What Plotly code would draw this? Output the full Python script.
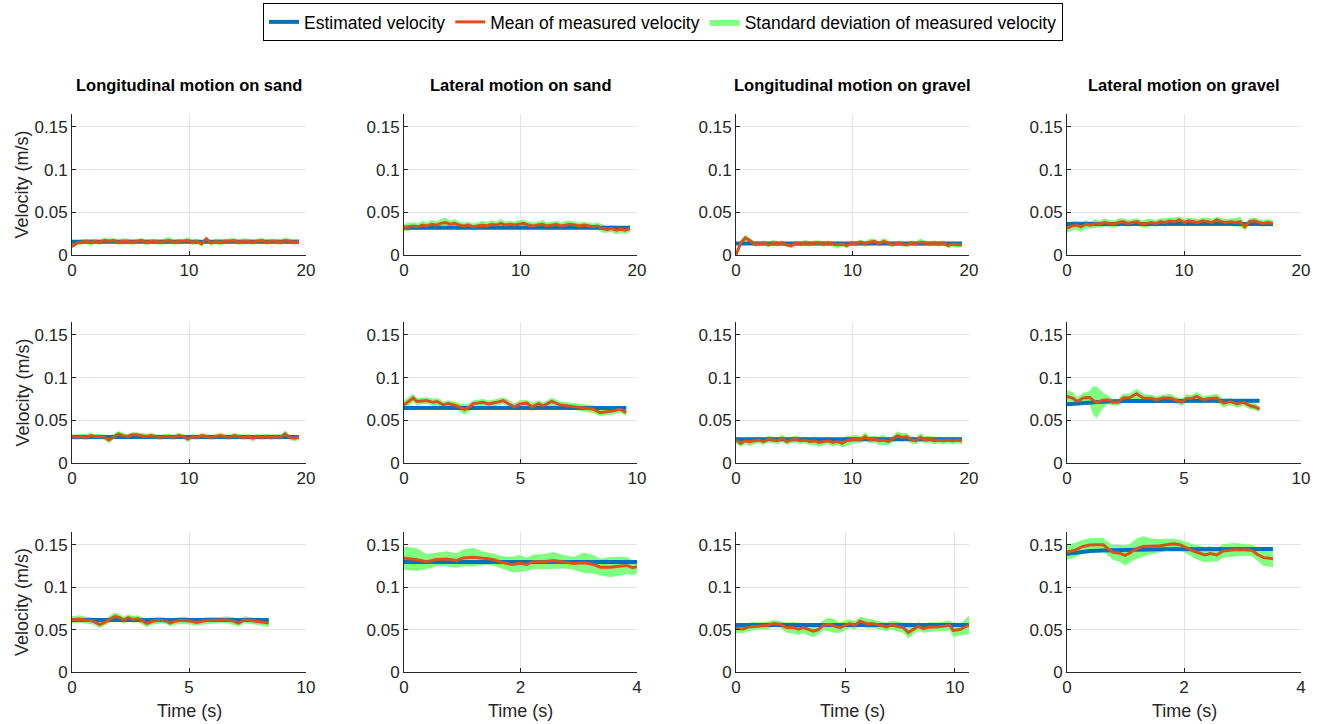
import numpy as np
import plotly.graph_objects as go

# ---------------- data ----------------
titles = ["Longitudinal motion on sand", "Lateral motion on sand",
          "Longitudinal motion on gravel", "Lateral motion on gravel"]
series_names = ["Estimated velocity", "Mean of measured velocity",
                "Standard deviation of measured velocity"]
y_tickvals = [0, 0.05, 0.1, 0.15]
y_ticktext = ["0", "0.05", "0.1", "0.15"]

# Row 1, col 1 : longitudinal / sand (slow)
A_t = np.linspace(0, 19.4, 50)
A_mean = [0.010, 0.014, 0.015, 0.016, 0.015, 0.016, 0.015, 0.017, 0.016, 0.017,
          0.015, 0.016, 0.016, 0.015, 0.016, 0.017, 0.015, 0.016, 0.016, 0.015,
          0.016, 0.017, 0.015, 0.016, 0.016, 0.017, 0.015, 0.016, 0.013, 0.019,
          0.014, 0.016, 0.015, 0.016, 0.016, 0.017, 0.015, 0.016, 0.016, 0.015,
          0.016, 0.017, 0.015, 0.016, 0.016, 0.015, 0.017, 0.016, 0.015, 0.016]
A_std = [0.002, 0.003, 0.003, 0.003, 0.0035, 0.003, 0.003, 0.0035, 0.003, 0.003,
         0.003, 0.0035, 0.003, 0.003, 0.003, 0.003, 0.0035, 0.003, 0.003, 0.003,
         0.0035, 0.004, 0.003, 0.003, 0.003, 0.0035, 0.003, 0.003, 0.003, 0.003,
         0.003, 0.003, 0.0035, 0.003, 0.003, 0.003, 0.003, 0.0035, 0.003, 0.003,
         0.003, 0.0035, 0.003, 0.003, 0.003, 0.003, 0.0035, 0.003, 0.003, 0.003]
A_est_t = [0, 19.4]
A_est = [0.0155, 0.0155]

# Row 1, col 2 : lateral / sand (slow)
B_t = np.linspace(0, 19.4, 50)
B_mean = [0.032, 0.033, 0.034, 0.033, 0.035, 0.034, 0.036, 0.035, 0.037, 0.038,
          0.036, 0.037, 0.035, 0.034, 0.035, 0.033, 0.034, 0.035, 0.034, 0.036,
          0.035, 0.037, 0.035, 0.036, 0.035, 0.036, 0.037, 0.035, 0.034, 0.035,
          0.036, 0.034, 0.035, 0.036, 0.034, 0.035, 0.036, 0.035, 0.034, 0.035,
          0.034, 0.033, 0.034, 0.031, 0.030, 0.031, 0.029, 0.030, 0.029, 0.031]
B_std = [0.004, 0.005, 0.004, 0.004, 0.005, 0.004, 0.005, 0.004, 0.005, 0.006,
         0.004, 0.005, 0.004, 0.004, 0.004, 0.004, 0.004, 0.005, 0.004, 0.005,
         0.004, 0.005, 0.004, 0.004, 0.004, 0.005, 0.004, 0.004, 0.004, 0.004,
         0.005, 0.004, 0.004, 0.004, 0.004, 0.005, 0.004, 0.004, 0.004, 0.004,
         0.004, 0.004, 0.004, 0.005, 0.004, 0.004, 0.005, 0.004, 0.004, 0.004]
B_est_t = [0, 19.4]
B_est = [0.032, 0.032]

# Row 1, col 3 : longitudinal / gravel (slow)
C_t = np.linspace(0, 19.4, 50)
C_mean = [0.000, 0.014, 0.020, 0.017, 0.013, 0.013, 0.014, 0.012, 0.014, 0.013,
          0.014, 0.012, 0.011, 0.014, 0.013, 0.014, 0.013, 0.014, 0.014, 0.013,
          0.014, 0.013, 0.012, 0.013, 0.011, 0.014, 0.013, 0.015, 0.013, 0.015,
          0.016, 0.013, 0.016, 0.014, 0.012, 0.014, 0.013, 0.012, 0.014, 0.013,
          0.015, 0.014, 0.013, 0.014, 0.013, 0.014, 0.011, 0.013, 0.012, 0.012]
C_std = [0.0005, 0.003, 0.004, 0.003, 0.003, 0.003, 0.003, 0.003, 0.0035, 0.003,
         0.003, 0.003, 0.003, 0.003, 0.003, 0.0035, 0.003, 0.003, 0.003, 0.003,
         0.003, 0.003, 0.0035, 0.003, 0.003, 0.003, 0.003, 0.003, 0.003, 0.004,
         0.003, 0.003, 0.004, 0.003, 0.003, 0.003, 0.003, 0.003, 0.003, 0.003,
         0.004, 0.003, 0.003, 0.003, 0.003, 0.003, 0.003, 0.0035, 0.003, 0.003]
C_est_t = [0, 19.4]
C_est = [0.0135, 0.0135]

# Row 1, col 4 : lateral / gravel (slow)
D_t = np.linspace(0, 17.6, 45)
D_mean = [0.031, 0.034, 0.035, 0.033, 0.036, 0.035, 0.037, 0.036, 0.038, 0.037,
          0.036, 0.038, 0.039, 0.037, 0.038, 0.039, 0.036, 0.037, 0.038, 0.037,
          0.039, 0.038, 0.040, 0.039, 0.041, 0.038, 0.040, 0.039, 0.038, 0.040,
          0.039, 0.038, 0.041, 0.039, 0.038, 0.039, 0.038, 0.039, 0.033, 0.039,
          0.040, 0.038, 0.037, 0.038, 0.037]
D_std = [0.005, 0.006, 0.005, 0.006, 0.005, 0.004, 0.005, 0.004, 0.005, 0.004,
         0.004, 0.005, 0.004, 0.004, 0.004, 0.004, 0.004, 0.005, 0.004, 0.004,
         0.004, 0.005, 0.004, 0.005, 0.004, 0.004, 0.004, 0.004, 0.004, 0.004,
         0.005, 0.004, 0.004, 0.004, 0.004, 0.004, 0.005, 0.006, 0.004, 0.004,
         0.004, 0.004, 0.004, 0.004, 0.004]
D_est_t = [0, 17.6]
D_est = [0.0362, 0.0362]

# Row 2, col 1 : longitudinal / sand (medium)
E_t = np.linspace(0, 19.4, 50)
E_mean = [0.031, 0.030, 0.031, 0.030, 0.032, 0.031, 0.031, 0.030, 0.027, 0.031,
          0.034, 0.032, 0.031, 0.033, 0.033, 0.032, 0.031, 0.032, 0.031, 0.030,
          0.031, 0.031, 0.030, 0.032, 0.031, 0.028, 0.031, 0.030, 0.032, 0.031,
          0.030, 0.031, 0.032, 0.031, 0.030, 0.032, 0.031, 0.030, 0.031, 0.029,
          0.031, 0.030, 0.031, 0.030, 0.031, 0.030, 0.034, 0.030, 0.029, 0.030]
E_std = [0.003, 0.003, 0.003, 0.0035, 0.003, 0.003, 0.003, 0.003, 0.004, 0.003,
         0.0035, 0.003, 0.003, 0.003, 0.003, 0.003, 0.003, 0.003, 0.003, 0.003,
         0.003, 0.003, 0.003, 0.003, 0.003, 0.0035, 0.003, 0.003, 0.003, 0.003,
         0.003, 0.003, 0.003, 0.003, 0.003, 0.003, 0.003, 0.003, 0.003, 0.0035,
         0.003, 0.003, 0.003, 0.003, 0.003, 0.003, 0.004, 0.003, 0.0035, 0.003]
E_est_t = [0, 19.4]
E_est = [0.0305, 0.0305]

# Row 2, col 2 : lateral / sand (medium)
F_t = [0, 0.39, 0.56, 0.96, 1.25, 1.42, 1.68, 1.9, 2.25, 2.6, 2.82, 2.97, 3.4,
       3.62, 3.98, 4.26, 4.45, 4.73, 4.98, 5.27, 5.5, 5.77, 5.98, 6.34, 6.7,
       6.99, 7.35, 7.7, 8.13, 8.42, 8.71, 9.0, 9.28, 9.54]
F_mean = [0.068, 0.076, 0.072, 0.073, 0.071, 0.072, 0.068, 0.0695, 0.067, 0.0625,
          0.0656, 0.0695, 0.071, 0.069, 0.071, 0.073, 0.070, 0.0656, 0.069, 0.070,
          0.0656, 0.0695, 0.0668, 0.072, 0.068, 0.067, 0.066, 0.0648, 0.063, 0.059,
          0.060, 0.061, 0.063, 0.059]
F_std = [0.005, 0.005, 0.004, 0.004, 0.004, 0.0045, 0.004, 0.004, 0.004, 0.006,
         0.005, 0.004, 0.004, 0.004, 0.004, 0.004, 0.0045, 0.004, 0.0045, 0.004,
         0.005, 0.004, 0.004, 0.0045, 0.004, 0.004, 0.004, 0.004, 0.0045, 0.004,
         0.004, 0.004, 0.004, 0.004]
F_est_t = [0, 9.54]
F_est = [0.0645, 0.0645]

# Row 2, col 3 : longitudinal / gravel (medium)
G_t = np.linspace(0, 19.4, 50)
G_mean = [0.027, 0.023, 0.026, 0.025, 0.026, 0.027, 0.025, 0.028, 0.027, 0.026,
          0.029, 0.025, 0.027, 0.028, 0.026, 0.027, 0.025, 0.026, 0.024, 0.025,
          0.026, 0.024, 0.025, 0.023, 0.026, 0.027, 0.028, 0.027, 0.031, 0.027,
          0.028, 0.026, 0.027, 0.025, 0.028, 0.032, 0.030, 0.031, 0.027, 0.026,
          0.030, 0.027, 0.028, 0.026, 0.027, 0.026, 0.027, 0.026, 0.027, 0.026]
G_std = [0.004, 0.004, 0.004, 0.005, 0.004, 0.004, 0.004, 0.004, 0.004, 0.004,
         0.004, 0.004, 0.004, 0.004, 0.004, 0.004, 0.004, 0.005, 0.005, 0.004,
         0.004, 0.005, 0.004, 0.005, 0.006, 0.005, 0.005, 0.004, 0.005, 0.004,
         0.004, 0.005, 0.006, 0.004, 0.004, 0.005, 0.005, 0.004, 0.004, 0.004,
         0.005, 0.004, 0.004, 0.004, 0.004, 0.004, 0.004, 0.004, 0.004, 0.004]
G_est_t = [0, 19.4]
G_est = [0.0278, 0.0278]

# Row 2, col 4 : lateral / gravel (medium)
H_t = [0, 0.26, 0.43, 0.69, 0.97, 1.1, 1.26, 1.54, 1.76, 1.97, 2.19, 2.4, 2.69,
       2.97, 3.26, 3.6, 3.83, 4.1, 4.4, 4.61, 4.9, 5.1, 5.31, 5.54, 5.83, 6.1,
       6.4, 6.69, 6.97, 7.26, 7.54, 7.83, 8.04, 8.23]
H_mean = [0.078, 0.0758, 0.072, 0.076, 0.0766, 0.0735, 0.0707, 0.0734, 0.074, 0.071,
          0.071, 0.076, 0.0766, 0.081, 0.076, 0.0758, 0.074, 0.076, 0.076, 0.074,
          0.071, 0.0754, 0.0754, 0.078, 0.074, 0.0754, 0.076, 0.070, 0.072, 0.069,
          0.071, 0.067, 0.0656, 0.063]
H_std = [0.007, 0.007, 0.005, 0.006, 0.008, 0.016, 0.019, 0.009, 0.005, 0.004,
         0.004, 0.005, 0.005, 0.006, 0.005, 0.004, 0.004, 0.004, 0.005, 0.004,
         0.004, 0.005, 0.004, 0.005, 0.004, 0.004, 0.005, 0.005, 0.004, 0.004,
         0.004, 0.004, 0.004, 0.003]
H_est_t = [0, 0.5, 1.0, 1.5, 2.0, 2.5, 8.23]
H_est = [0.0688, 0.0700, 0.0710, 0.0717, 0.0722, 0.0726, 0.0727]

# Row 3, col 1 : longitudinal / sand (fast)
I_t = [0, 0.33, 0.61, 0.9, 1.19, 1.47, 1.83, 2.04, 2.21, 2.4, 2.61, 2.81, 2.96,
       3.19, 3.47, 3.76, 4.04, 4.19, 4.4, 4.69, 5.04, 5.33, 5.61, 5.9, 6.26,
       6.61, 6.9, 7.11, 7.4, 7.76, 8.04, 8.41]
I_mean = [0.0616, 0.0624, 0.061, 0.060, 0.056, 0.0597, 0.0655, 0.064, 0.061, 0.064,
          0.062, 0.063, 0.061, 0.057, 0.060, 0.061, 0.060, 0.0577, 0.0597, 0.061,
          0.060, 0.0585, 0.060, 0.061, 0.061, 0.0616, 0.060, 0.0577, 0.0616, 0.060,
          0.059, 0.0577]
I_std = [0.004, 0.0045, 0.004, 0.004, 0.004, 0.004, 0.0045, 0.004, 0.004, 0.004,
         0.004, 0.004, 0.004, 0.004, 0.004, 0.004, 0.0035, 0.004, 0.004, 0.0045,
         0.004, 0.004, 0.004, 0.004, 0.0035, 0.004, 0.0045, 0.004, 0.004, 0.004,
         0.004, 0.005]
I_est_t = [0, 8.41]
I_est = [0.0612, 0.0612]

# Row 3, col 2 : lateral / sand (fast)
J_t = [0, 0.21, 0.39, 0.56, 0.73, 0.9, 1.02, 1.19, 1.36, 1.53, 1.71, 1.85, 1.99,
       2.1, 2.22, 2.4, 2.57, 2.74, 2.91, 3.09, 3.26, 3.37, 3.55, 3.72, 3.83,
       3.92, 4.0]
J_mean = [0.134, 0.1326, 0.130, 0.1326, 0.1333, 0.1314, 0.1345, 0.1353, 0.134,
          0.1326, 0.1287, 0.1267, 0.128, 0.1267, 0.130, 0.130, 0.1314, 0.130,
          0.128, 0.1287, 0.1267, 0.1236, 0.1236, 0.1248, 0.1256, 0.1229, 0.124]
J_std = [0.0135, 0.0135, 0.009, 0.008, 0.009, 0.0085, 0.010, 0.011, 0.008, 0.007,
         0.0075, 0.009, 0.010, 0.008, 0.0085, 0.009, 0.010, 0.008, 0.0075, 0.012,
         0.011, 0.010, 0.012, 0.011, 0.010, 0.009, 0.008]
J_est_t = [0, 4.0]
J_est = [0.1297, 0.1297]

# Row 3, col 3 : longitudinal / gravel (fast)
K_t = [0, 0.33, 0.56, 0.79, 1.1, 1.4, 1.7, 2.0, 2.31, 2.62, 2.85, 3.07, 3.3,
       3.53, 3.76, 3.99, 4.22, 4.52, 4.75, 4.98, 5.2, 5.43, 5.66, 5.97, 6.27,
       6.58, 6.88, 7.1, 7.34, 7.64, 7.87, 8.1, 8.33, 8.55, 8.86, 9.16, 9.47,
       9.77, 9.92, 10.23, 10.46, 10.64]
K_mean = [0.0512, 0.0508, 0.053, 0.0539, 0.0543, 0.0547, 0.057, 0.0562, 0.0523,
          0.0523, 0.0504, 0.0523, 0.050, 0.048, 0.050, 0.055, 0.0562, 0.0539,
          0.0523, 0.055, 0.057, 0.055, 0.060, 0.057, 0.057, 0.055, 0.053, 0.0554,
          0.0539, 0.0523, 0.0465, 0.050, 0.0539, 0.0512, 0.053, 0.053, 0.0539,
          0.055, 0.049, 0.050, 0.053, 0.0555]
K_std = [0.005, 0.005, 0.005, 0.005, 0.004, 0.005, 0.004, 0.004, 0.006, 0.007,
         0.007, 0.006, 0.007, 0.007, 0.006, 0.006, 0.008, 0.008, 0.006, 0.006,
         0.005, 0.005, 0.005, 0.006, 0.005, 0.005, 0.005, 0.005, 0.006, 0.006,
         0.007, 0.006, 0.005, 0.005, 0.006, 0.005, 0.006, 0.006, 0.008, 0.007,
         0.009, 0.011]
K_est_t = [0, 10.64]
K_est = [0.0555, 0.0555]

# Row 3, col 4 : lateral / gravel (fast)
L_t = [0, 0.13, 0.27, 0.39, 0.5, 0.62, 0.7, 0.79, 0.9, 0.99, 1.07, 1.19, 1.3,
       1.47, 1.59, 1.7, 1.82, 1.93, 2.05, 2.16, 2.27, 2.36, 2.45, 2.56, 2.67,
       2.85, 3.02, 3.16, 3.25, 3.36, 3.52]
L_mean = [0.1414, 0.1434, 0.148, 0.1496, 0.150, 0.150, 0.1453, 0.141, 0.140,
          0.1375, 0.140, 0.1453, 0.148, 0.148, 0.1488, 0.150, 0.151, 0.150,
          0.146, 0.1426, 0.140, 0.138, 0.1395, 0.138, 0.1426, 0.144, 0.144,
          0.1434, 0.1387, 0.1348, 0.1336]
L_std = [0.009, 0.009, 0.008, 0.008, 0.008, 0.008, 0.008, 0.009, 0.010, 0.012,
         0.011, 0.012, 0.012, 0.009, 0.008, 0.007, 0.006, 0.006, 0.007, 0.008,
         0.009, 0.009, 0.009, 0.008, 0.008, 0.008, 0.007, 0.007, 0.008, 0.010,
         0.010]
L_est_t = [0, 0.2, 0.4, 0.6, 0.8, 1.0, 1.3, 1.6, 3.52]
L_est = [0.1395, 0.1412, 0.1425, 0.1433, 0.1438, 0.1442, 0.1446, 0.1448, 0.1449]

# x-axis range end and tick values per panel (row-major)
x_max = [20, 20, 20, 20,
         20, 10, 20, 10,
         10, 4, 10.64, 4]
x_ticks = [[0, 10, 20], [0, 10, 20], [0, 10, 20], [0, 10, 20],
           [0, 10, 20], [0, 5, 10], [0, 10, 20], [0, 5, 10],
           [0, 5, 10], [0, 2, 4], [0, 5, 10], [0, 2, 4]]

panels = [
    (A_t, A_mean, A_std, A_est_t, A_est), (B_t, B_mean, B_std, B_est_t, B_est),
    (C_t, C_mean, C_std, C_est_t, C_est), (D_t, D_mean, D_std, D_est_t, D_est),
    (E_t, E_mean, E_std, E_est_t, E_est), (F_t, F_mean, F_std, F_est_t, F_est),
    (G_t, G_mean, G_std, G_est_t, G_est), (H_t, H_mean, H_std, H_est_t, H_est),
    (I_t, I_mean, I_std, I_est_t, I_est), (J_t, J_mean, J_std, J_est_t, J_est),
    (K_t, K_mean, K_std, K_est_t, K_est), (L_t, L_mean, L_std, L_est_t, L_est),
]

# ---------------- layout / style ----------------
W, Hpx = 1325, 724
FONT = "Liberation Sans, Arial, Helvetica, sans-serif"
BLUE = "#0072BD"
ORANGE = "#D95319"
GREEN = "rgb(128,255,128)"
AXCOL = "#262626"

col_px = [(72, 306), (404, 637), (736, 969), (1067, 1301)]
row_px = [(114, 255), (322, 463), (532, 672)]

fig = go.Figure()
layout = dict(
    width=W, height=Hpx,
    margin=dict(l=0, r=0, t=0, b=0, autoexpand=False),
    paper_bgcolor="white", plot_bgcolor="white",
    font=dict(family=FONT, size=17, color=AXCOL),
    showlegend=True,
    legend=dict(orientation="h", x=663 / W, xanchor="center",
                y=1 - 3 / Hpx, yanchor="top",
                bgcolor="white", bordercolor="black", borderwidth=1,
                font=dict(family=FONT, size=17.5, color="black"),
                itemwidth=30, traceorder="normal"),
)

for i, (t, m, s, et, ev) in enumerate(panels):
    r, c = divmod(i, 4)
    k = i + 1
    xa = "x" if k == 1 else f"x{k}"
    ya = "y" if k == 1 else f"y{k}"
    t = list(np.asarray(t, dtype=float))
    m = np.asarray(m, dtype=float)
    s = np.asarray(s, dtype=float)
    upper = list(m + s)
    lower = list(m - s)
    first = (i == 0)
    fig.add_trace(go.Scatter(
        x=t + t[::-1], y=upper + lower[::-1], fill="toself", fillcolor=GREEN,
        mode="lines", line=dict(width=0, color=GREEN),
        name=series_names[2], legendgroup="std", legendrank=3,
        showlegend=first, hoverinfo="skip", xaxis=xa, yaxis=ya))
    fig.add_trace(go.Scatter(
        x=et, y=ev, mode="lines", line=dict(color=BLUE, width=4),
        name=series_names[0], legendgroup="est", legendrank=1,
        showlegend=first, xaxis=xa, yaxis=ya))
    fig.add_trace(go.Scatter(
        x=t, y=list(m), mode="lines", line=dict(color=ORANGE, width=3),
        name=series_names[1], legendgroup="mean", legendrank=2,
        showlegend=first, xaxis=xa, yaxis=ya))

    x0, x1 = col_px[c]
    y0, y1 = row_px[r]
    axis_common = dict(showgrid=True, gridcolor="#e3e3e3", gridwidth=1,
                       zeroline=False, showline=True, linecolor=AXCOL,
                       linewidth=1, ticks="inside", ticklen=4,
                       tickcolor=AXCOL, tickfont=dict(size=17, color=AXCOL),
                       automargin=False, fixedrange=True)
    layout["xaxis" if k == 1 else f"xaxis{k}"] = dict(
        axis_common, domain=[x0 / W, x1 / W], anchor=ya,
        range=[0, x_max[i]], tickvals=x_ticks[i],
        ticktext=[str(v) for v in x_ticks[i]])
    layout["yaxis" if k == 1 else f"yaxis{k}"] = dict(
        axis_common, domain=[1 - y1 / Hpx, 1 - y0 / Hpx], anchor=xa,
        range=[0, 0.165], tickvals=y_tickvals, ticktext=y_ticktext)

annotations = []
for c, title in enumerate(titles):
    x0, x1 = col_px[c]
    annotations.append(dict(
        text=f"<b>{title}</b>", x=(x0 + x1) / 2 / W, y=1 - 85 / Hpx,
        xref="paper", yref="paper", showarrow=False, xanchor="center",
        yanchor="middle", font=dict(family=FONT, size=16.5, color="black")))
    annotations.append(dict(
        text="Time (s)", x=(x0 + x1) / 2 / W, y=1 - 711 / Hpx,
        xref="paper", yref="paper", showarrow=False, xanchor="center",
        yanchor="middle", font=dict(family=FONT, size=18, color=AXCOL)))
for r in range(3):
    y0, y1 = row_px[r]
    annotations.append(dict(
        text="Velocity (m/s)", x=22 / W, y=1 - (y0 + y1) / 2 / Hpx,
        xref="paper", yref="paper", showarrow=False, textangle=-90,
        xanchor="center", yanchor="middle",
        font=dict(family=FONT, size=18, color=AXCOL)))
layout["annotations"] = annotations

fig.update_layout(**layout)
fig.write_html("out.html",
               config={"displayModeBar": False},
               post_script="document.body.style.margin='0';"
                           "document.body.style.overflow='hidden';")
